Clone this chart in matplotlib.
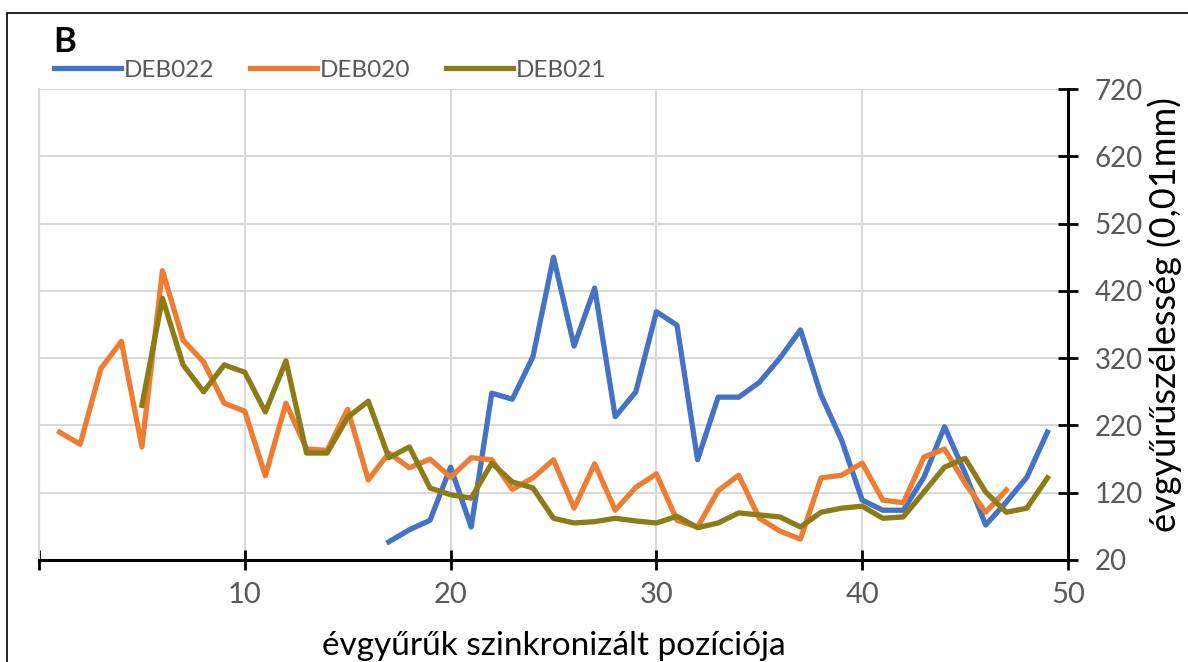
import matplotlib.pyplot as plt
from matplotlib.lines import Line2D
from matplotlib.patches import Rectangle

# ring widths (0,01 mm)
x_deb020 = list(range(1, 48))
deb020 = [210, 192, 304, 345, 188, 450, 347, 314, 253, 241,
          145, 253, 185, 183, 244, 139, 179, 157, 170, 143,
          172, 169, 125, 142, 169, 97, 163, 94, 128, 148,
          79, 69, 123, 146, 82, 63, 51, 142, 146, 164,
          109, 105, 173, 185, 134, 91, 124]

x_deb021 = list(range(5, 50))
deb021 = [250, 409, 310, 270, 310, 299, 240, 316, 179, 179,
          232, 256, 172, 188, 127, 117, 112, 164, 136, 127,
          82, 75, 77, 82, 78, 75, 85, 68, 75, 90,
          87, 84, 69, 91, 97, 100, 82, 84, 121, 158,
          171, 121, 91, 97, 142]

x_deb022 = list(range(17, 50))
deb022 = [47, 65, 79, 158, 69, 268, 259, 322, 470, 338,
          424, 233, 270, 389, 369, 169, 262, 262, 284, 320,
          362, 265, 198, 109, 94, 94, 143, 218, 149, 72,
          106, 143, 210]

series_names = ['DEB022', 'DEB020', 'DEB021']
series_colors = ['#4472C4', '#ED7D31', '#8C7B16']

x_ticks = [0, 10, 20, 30, 40, 50]
x_ticklabels = ['', '10', '20', '30', '40', '50']
y_ticks = [20, 120, 220, 320, 420, 520, 620, 720]

W, H = 1188, 662
plt.rcParams['font.family'] = ['Lato', 'DejaVu Sans']

fig = plt.figure(figsize=(W / 100, H / 100), dpi=100)
ax = fig.add_axes([39 / W, 1 - 560 / H, (1068 - 39) / W, (560 - 89) / H])

LW = 3.8
ax.plot(x_deb022, deb022, color=series_colors[0], lw=LW, zorder=3)
ax.plot(x_deb020, deb020, color=series_colors[1], lw=LW, zorder=4)
ax.plot(x_deb021, deb021, color=series_colors[2], lw=LW, zorder=5)

ax.set_xlim(0, 50)
ax.set_ylim(20, 720)
ax.set_xticks(x_ticks)
ax.set_xticklabels(x_ticklabels)
ax.set_yticks(y_ticks)

# y axis lives on the right
ax.yaxis.tick_right()

ax.grid(True, color='#d9d9d9', lw=1.5, zorder=0)
ax.set_axisbelow(True)

ax.spines['top'].set_visible(False)
ax.spines['left'].set_color('#d9d9d9')
ax.spines['left'].set_linewidth(1.5)
ax.spines['bottom'].set_linewidth(2.2)
ax.spines['right'].set_linewidth(2.2)

ax.tick_params(axis='both', direction='inout', length=14, width=2.0,
               colors='black', labelcolor='#595959')
ax.tick_params(axis='x', pad=9, labelsize=21)
ax.tick_params(axis='y', pad=12, labelsize=20)

# axis titles placed like the reference
fig.text(554 / W, 1 - 655 / H, 'évgyűrűk szinkronizált pozíciója', fontsize=24,
         color='black', ha='center', va='baseline')
fig.text(1165 / W, 1 - 315 / H, 'évgyűrűszélesség (0,01mm)', fontsize=26,
         color='black', ha='center', va='center', rotation=90)

# legend at the top left
handles = [Line2D([0], [0], color=c, lw=LW) for c in series_colors]
fig.legend(handles, series_names, loc='center left', bbox_to_anchor=(54 / W, 1 - 70 / H),
           ncol=3, frameon=False, fontsize=17.5, handlelength=2.75, handletextpad=0.1,
           columnspacing=1.5, labelcolor='#595959', borderaxespad=0, borderpad=0)

fig.text(53 / W, 1 - 52 / H, 'B', fontsize=25, fontweight='bold', color='black',
         va='baseline')

# outer frame, cut at right and bottom like the reference
fig.patches.append(Rectangle((7 / W, -0.1), 1.1, 1.1 - 13 / H, transform=fig.transFigure,
                             fill=False, edgecolor='black', lw=1.2))

fig.savefig('out.png', dpi=100)
